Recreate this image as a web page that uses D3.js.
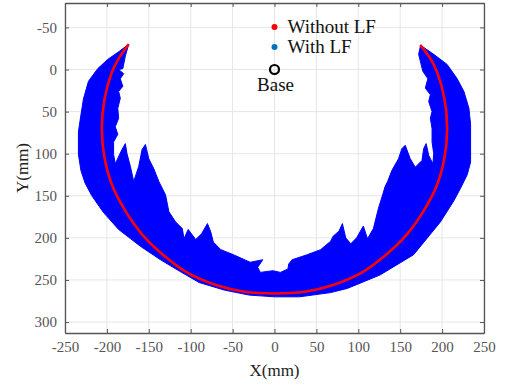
<!DOCTYPE html>
<html>
<head>
<meta charset="utf-8">
<script src="https://cdn.jsdelivr.net/npm/d3@7"></script>
<style>
  body { margin: 0; background: #fff; }
  text { font-family: "Liberation Serif", "Times New Roman", serif; }
</style>
</head>
<body>
<svg width="506" height="387"></svg>
<script>
// tick values
const xTicks = [-250, -200, -150, -100, -50, 0, 50, 100, 150, 200, 250];
const yTicks = [-50, 0, 50, 100, 150, 200, 250, 300];

// "Without LF" path (mm)
const withoutLF = [[-174,-30],[-186,-13],[-194,3],[-203,36],[-206,70],[-203,104],[-194,137],
  [-178,168],[-157,197],[-132,221],[-103,242],[-70,256],[-36,264],[0,266],[36,264],[70,256],
  [103,242],[132,221],[157,197],[178,168],[194,137],[203,104],[206,70],[203,36],[194,3],
  [186,-13],[174,-29]];

// "With LF" region: outer edge left tip -> right tip
const withLFOuter = [[-174,-30],[-186,-21],[-199,-12],[-211,-1],[-222,14],[-228,35],[-231,54],
  [-234,74],[-234,101],[-231,120],[-226,135],[-218,150],[-204,170],[-186,190],[-160,210],
  [-136,226],[-116,238],[-90,253],[-60,262],[-30,268],[0,270],[30,270],[67,265],[87,260],
  [126,244],[166,220],[198,181],[214,156],[222,141],[230,125],[234,110],[234,86],[234,65],
  [232,46],[226,26],[218,11],[206,-6],[190,-18],[174,-29]];

// inner (spiky) edge right tip -> left tip
const withLFInner = [[174,-27],[172,-18],[177,2],[183,11],[180,22],[186,30],[184,38],[188,50],
  [186,58],[188,70],[188,86],[190,100],[189,112],[184,102],[181,88],[178,94],[176,108],[168,116],
  [162,106],[156,90],[152,94],[148,106],[140,120],[135,133],[132,139],[129,149],[124,165],
  [118,189],[111,201],[106,186],[98,200],[91,207],[85,200],[81,183],[77,192],[70,198],[67,204],
  [55,214],[39,220],[21,226],[17,231],[16,237],[7,241],[-2,239],[-17,241],[-20,235],[-14,226],
  [-29,229],[-49,220],[-64,214],[-73,205],[-76,193],[-80,183],[-87,195],[-94,202],[-103,190],
  [-108,201],[-110,189],[-118,181],[-126,169],[-130,149],[-138,133],[-144,118],[-150,106],
  [-154,89],[-158,95],[-162,115],[-168,133],[-172,115],[-176,100],[-178,88],[-182,95],
  [-190,112],[-192,101],[-192,86],[-187,77],[-190,68],[-186,58],[-187,46],[-184,34],[-186,26],
  [-181,20],[-184,11],[-180,5],[-186,0],[-181,-1],[-178,-16],[-174,-30]];

const base = [0, 0];
const legendNames = ['Without LF', 'With LF'];
const legendColors = ['#ff0000', '#0072bd'];

const svg = d3.select('svg');
const L = 65, R = 484, T = 3, B = 333;
const x = d3.scaleLinear().domain([-250, 250]).range([L, R]);
const y = d3.scaleLinear().domain([-79, 313]).range([T, B]);
const fmt = d => String(d);   // plain hyphen minus, like the original

// grid
svg.append('g').selectAll('line').data(xTicks).join('line')
  .attr('x1', d => x(d)).attr('x2', d => x(d)).attr('y1', T).attr('y2', B)
  .attr('stroke', '#e6e6e6').attr('stroke-width', 1);
svg.append('g').selectAll('line').data(yTicks).join('line')
  .attr('y1', d => y(d)).attr('y2', d => y(d)).attr('x1', L).attr('x2', R)
  .attr('stroke', '#e6e6e6').attr('stroke-width', 1);

svg.append('clipPath').attr('id', 'clip')
  .append('rect').attr('x', L).attr('y', T).attr('width', R - L).attr('height', B - T);
const plot = svg.append('g').attr('clip-path', 'url(#clip)');

// blue region
const band = withLFOuter.concat(withLFInner);
plot.append('path')
  .attr('d', d3.line().x(d => x(d[0])).y(d => y(d[1]))(band) + 'Z')
  .attr('fill', '#0000ff').attr('stroke', '#0000ff').attr('stroke-width', 1);

// red curve
plot.append('path')
  .attr('d', d3.line().x(d => x(d[0])).y(d => y(d[1])).curve(d3.curveCatmullRom)(withoutLF))
  .attr('fill', 'none').attr('stroke', '#ff0000').attr('stroke-width', 2.6);

// base marker
plot.append('circle').attr('cx', x(base[0])).attr('cy', y(base[1])).attr('r', 4.5)
  .attr('fill', 'none').attr('stroke', '#000').attr('stroke-width', 2.2);
svg.append('text').attr('x', x(base[0]) + 1).attr('y', 91).attr('text-anchor', 'middle')
  .attr('font-size', 19).attr('fill', '#111').text('Base');

// legend-like annotations
const leg = svg.append('g').selectAll('g').data(legendNames).join('g')
  .attr('transform', (d, i) => `translate(${x(0)},${27 + i * 20})`);
leg.append('circle').attr('r', 3).attr('fill', (d, i) => legendColors[i]);
leg.append('text').attr('x', 13).attr('y', 5.5).attr('font-size', 19).attr('fill', '#111')
  .text(d => d);

// axes with inward ticks on all sides
const axisCol = '#555';
const ax = svg.append('g');
ax.append('g').attr('transform', `translate(0,${B})`)
  .call(d3.axisBottom(x).tickValues(xTicks).tickFormat(fmt).tickSizeInner(-4).tickSizeOuter(0).tickPadding(8));
ax.append('g').attr('transform', `translate(0,${T})`)
  .call(d3.axisTop(x).tickValues(xTicks).tickSizeInner(-4).tickSizeOuter(0).tickFormat(''));
ax.append('g').attr('transform', `translate(${L},0)`)
  .call(d3.axisLeft(y).tickValues(yTicks).tickFormat(fmt).tickSizeInner(-4).tickSizeOuter(0).tickPadding(8));
ax.append('g').attr('transform', `translate(${R},0)`)
  .call(d3.axisRight(y).tickValues(yTicks).tickSizeInner(-4).tickSizeOuter(0).tickFormat(''));
ax.selectAll('.domain').attr('stroke', axisCol).attr('stroke-width', 1.3);
ax.selectAll('.tick line').attr('stroke', axisCol);
ax.selectAll('.tick text').attr('fill', '#555').attr('font-size', 15)
  .style('font-family', '"Liberation Serif", serif');

// axis labels
svg.append('text').attr('x', x(0)).attr('y', 376).attr('text-anchor', 'middle')
  .attr('font-size', 17).attr('fill', '#222').text('X(mm)');
svg.append('text').attr('transform', `translate(28,${(T + B) / 2}) rotate(-90)`)
  .attr('text-anchor', 'middle').attr('font-size', 17).attr('fill', '#222').text('Y(mm)');
</script>
</body>
</html>
